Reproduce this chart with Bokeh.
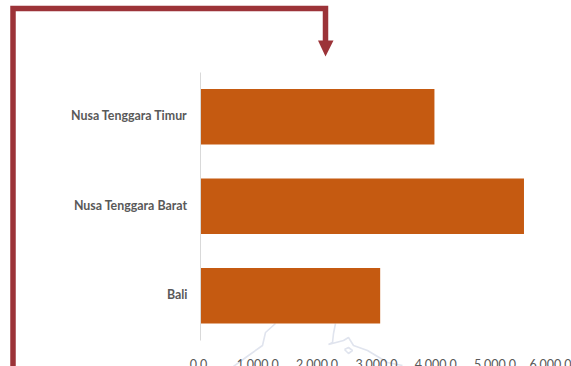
from bokeh.embed import file_html
from bokeh.models import FixedTicker, LinearAxis, Range1d
from bokeh.plotting import figure
from bokeh.resources import INLINE

# Provinces and their totals
provinces = ["Bali", "Nusa Tenggara Barat", "Nusa Tenggara Timur"]
totals = [3030, 5455, 3945]
value_ticks = [0, 1000, 2000, 3000, 4000, 5000, 6000]

# Page geometry: one value unit and one category step in pixels
W, H = 571, 366
ZERO_PX, PX_PER_UNIT = 200.0, 59.3 / 1000
BASE_PX, PX_PER_ROW = 340.0, 89.5
TICK_SHIFT_PX = 2.0
LABEL_RAISE = 1.0 / PX_PER_ROW

# Faint coastline traces behind the axis labels, in page pixels
coast_a = ([275, 265, 262, 248, 233], [323, 332, 345, 355, 366])
coast_b = ([335, 333, 332, 328, 343, 348, 353, 367, 387, 402],
           [323, 333, 342, 344, 340, 337, 345, 350, 362, 365])
lake = ([344, 348, 352, 348, 344], [349, 347, 350, 353, 349])

# Connector arrow, in page pixels
connector = ([12.5, 12.5, 325, 325], [366, 8, 8, 42])
arrow_head = ([317.5, 333, 325], [40, 40, 56])

x_start = -ZERO_PX / PX_PER_UNIT
x_end = (W - ZERO_PX) / PX_PER_UNIT

p = figure(
    width=W, height=H, output_backend="svg", toolbar_location=None,
    x_range=Range1d(x_start, x_end),
    y_range=Range1d(-(H - BASE_PX) / PX_PER_ROW, BASE_PX / PX_PER_ROW),
    x_axis_location=None, y_axis_location=None,
    min_border=0, min_border_left=0, min_border_right=0,
    min_border_top=0, min_border_bottom=0,
)
p.outline_line_color = None
p.grid.visible = False
p.background_fill_color = "white"

# Overlay range in page pixels for the decorations
p.extra_x_ranges["page"] = Range1d(0, W)
p.extra_y_ranges["page"] = Range1d(H, 0)
page = dict(x_range_name="page", y_range_name="page")

# Value axis labels sit slightly left of the bar origin
shift = TICK_SHIFT_PX / PX_PER_UNIT
p.extra_x_ranges["ticks"] = Range1d(x_start + shift, x_end + shift)

for xs, ys in (coast_a, coast_b, lake):
    p.line(xs, ys, line_color="#e0e4ee", line_width=1.6, **page)

rows = list(range(len(provinces)))
p.hbar(y=[r + 0.5 for r in rows], left=0, right=totals, height=0.62,
       fill_color="#c55a11", line_color=None)

p.line(*connector, line_color="#9c3338", line_width=5.5, line_join="miter", **page)
p.patch(*arrow_head, fill_color="#9c3338", line_color=None, **page)

x_axis = LinearAxis(x_range_name="ticks",
                    fixed_location=-(H - BASE_PX - 14) / PX_PER_ROW)
x_axis.ticker = FixedTicker(ticks=value_ticks)
x_axis.major_label_overrides = {v: f"{v:,.1f}" for v in value_ticks}
x_axis.axis_line_color = None
x_axis.major_tick_line_color = None
x_axis.minor_tick_line_color = None
x_axis.major_label_standoff = 0
x_axis.major_label_text_font = "Lato"
x_axis.major_label_text_font_size = "12.5px"
x_axis.major_label_text_color = "#595959"
p.add_layout(x_axis, "below")

label_ticks = [r + 0.5 + LABEL_RAISE for r in rows]
y_axis = LinearAxis(fixed_location=0, bounds=(0, 3))
y_axis.ticker = FixedTicker(ticks=label_ticks)
y_axis.major_label_overrides = {t: provinces[r] for r, t in zip(rows, label_ticks)}
y_axis.axis_line_color = "#d9d9d9"
y_axis.axis_line_width = 1
y_axis.major_tick_line_color = None
y_axis.minor_tick_line_color = None
y_axis.major_label_standoff = 7
y_axis.major_label_text_font = "Lato"
y_axis.major_label_text_font_style = "bold"
y_axis.major_label_text_font_size = "12.4px"
y_axis.major_label_text_color = "#595959"
p.add_layout(y_axis, "left")

open("out.html", "w").write(file_html(p, INLINE))
